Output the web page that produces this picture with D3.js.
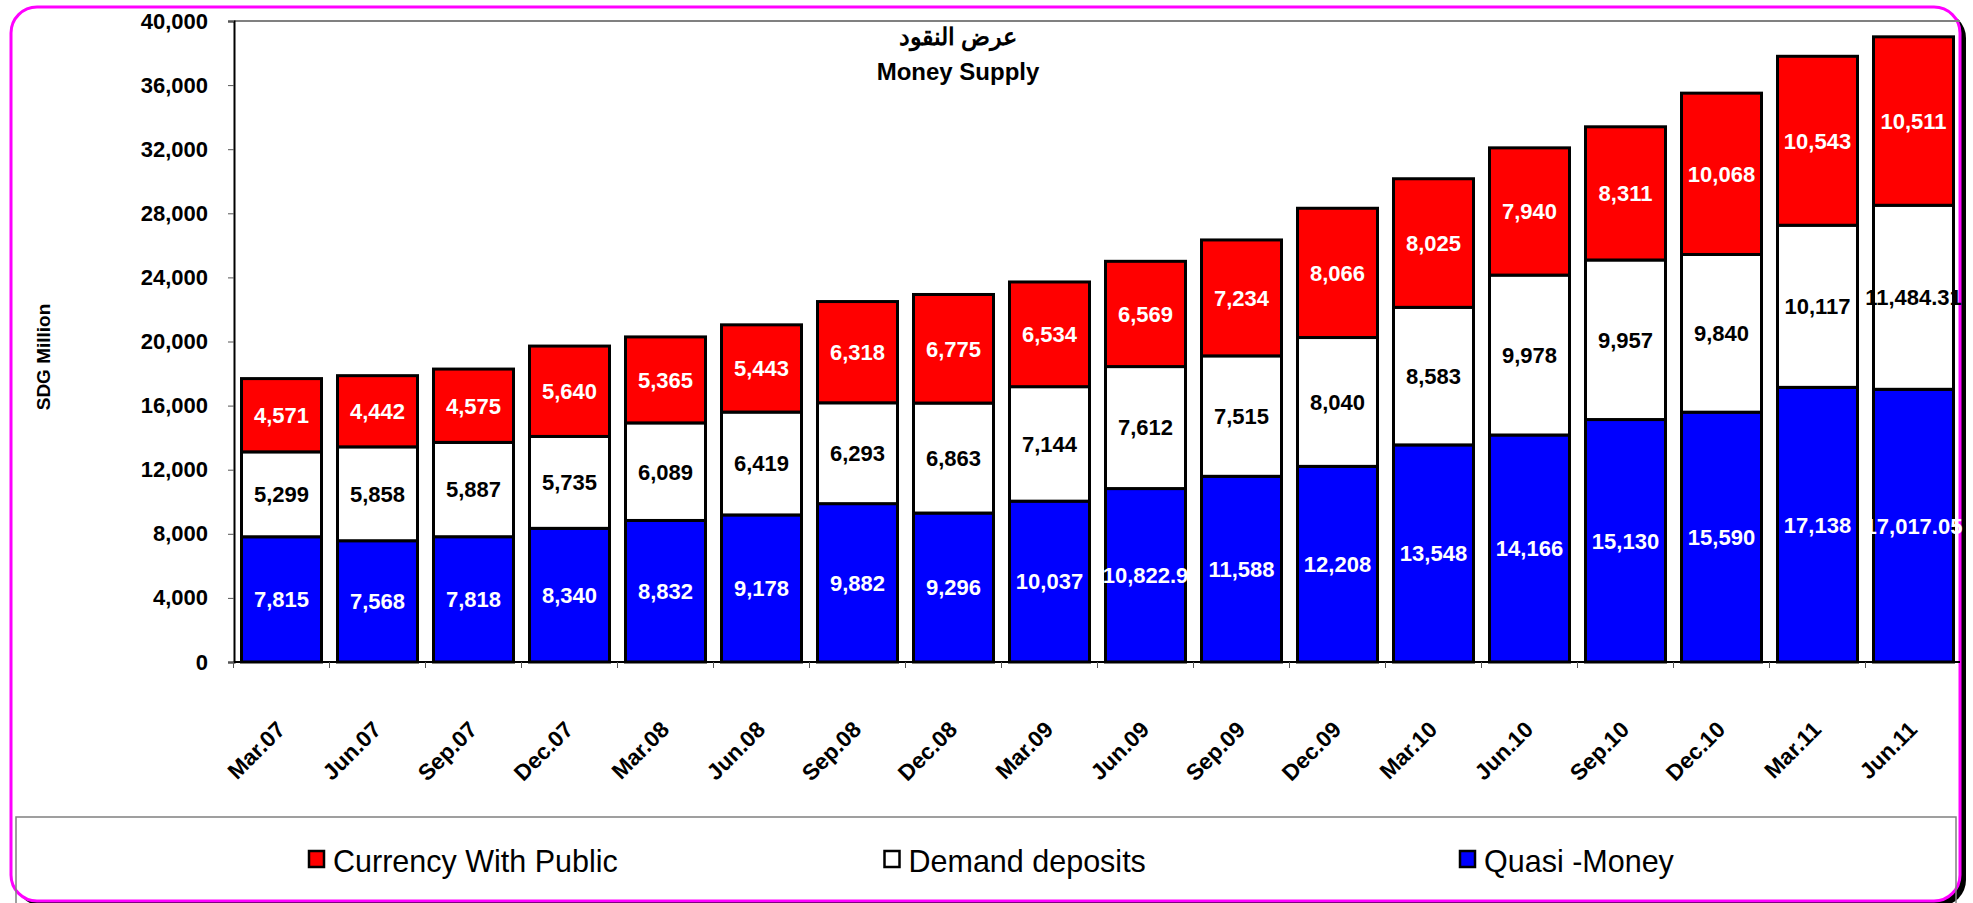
<!DOCTYPE html>
<html>
<head>
<meta charset="utf-8">
<script src="https://cdn.jsdelivr.net/npm/d3@7"></script>
<style>
  body { margin: 0; background: #fff; }
  text { font-family: "Liberation Sans", Arial, sans-serif; }
</style>
</head>
<body>
<div id="chart"></div>
<script>
// money supply, quarterly, SDG million
var periods = ["Mar.07", "Jun.07", "Sep.07", "Dec.07", "Mar.08", "Jun.08", "Sep.08", "Dec.08",
               "Mar.09", "Jun.09", "Sep.09", "Dec.09", "Mar.10", "Jun.10", "Sep.10", "Dec.10",
               "Mar.11", "Jun.11"];
var quasiMoney = [7815, 7568, 7818, 8340, 8832, 9178, 9882, 9296, 10037, 10822.9, 11588, 12208,
                  13548, 14166, 15130, 15590, 17138, 17017.05];
var demandDeposits = [5299, 5858, 5887, 5735, 6089, 6419, 6293, 6863, 7144, 7612, 7515, 8040,
                      8583, 9978, 9957, 9840, 10117, 11484.31];
var currency = [4571, 4442, 4575, 5640, 5365, 5443, 6318, 6775, 6534, 6569, 7234, 8066,
                8025, 7940, 8311, 10068, 10543, 10511];
var seriesNames = ["Quasi -Money", "Demand deposits", "Currency With Public"];
var yTicks = [0, 4000, 8000, 12000, 16000, 20000, 24000, 28000, 32000, 36000, 40000];

var W = 1973, H = 903;
var colors = {"Quasi -Money": "#0000ff", "Demand deposits": "#ffffff", "Currency With Public": "#ff0000"};
var labelColors = {"Quasi -Money": "#fff", "Demand deposits": "#000", "Currency With Public": "#fff"};

var rows = periods.map(function(p, i) {
  return {period: p, "Quasi -Money": quasiMoney[i], "Demand deposits": demandDeposits[i],
          "Currency With Public": currency[i]};
});

var svg = d3.select("#chart").append("svg")
  .attr("width", W).attr("height", H);

// outer frame with shadow
svg.append("rect")
  .attr("x", 16).attr("y", 12).attr("width", 1950).attr("height", 894)
  .attr("rx", 26).attr("fill", "#000");
svg.append("rect")
  .attr("x", 11).attr("y", 7).attr("width", 1949).attr("height", 894)
  .attr("rx", 26).attr("fill", "#fff")
  .attr("stroke", "#ff00ff").attr("stroke-width", 3);

var x = d3.scaleBand()
  .domain(periods)
  .range([233.5, 1961.5])
  .paddingInner(1 / 6)
  .paddingOuter(1 / 12);

var y = d3.scaleLinear()
  .domain([0, 40000])
  .range([662, 21]);

// plot top border
svg.append("line")
  .attr("x1", 234).attr("x2", 1960).attr("y1", 21).attr("y2", 21)
  .attr("stroke", "#808080").attr("stroke-width", 2);

var stack = d3.stack().keys(seriesNames);
var layers = stack(rows);

var g = svg.append("g");
layers.forEach(function(layer) {
  var key = layer.key;
  g.selectAll(null)
    .data(layer)
    .enter().append("rect")
    .attr("x", function(d) { return x(d.data.period); })
    .attr("y", function(d) { return y(d[1]); })
    .attr("width", x.bandwidth())
    .attr("height", function(d) { return y(d[0]) - y(d[1]); })
    .attr("fill", colors[key])
    .attr("stroke", "#000")
    .attr("stroke-width", 3);
});

// value labels
var fmt = d3.format(",");
layers.forEach(function(layer) {
  var key = layer.key;
  g.selectAll(null)
    .data(layer)
    .enter().append("text")
    .attr("x", function(d) { return x(d.data.period) + x.bandwidth() / 2; })
    .attr("y", function(d) { return (y(d[0]) + y(d[1])) / 2; })
    .attr("dy", "0.36em")
    .attr("text-anchor", "middle")
    .attr("font-size", 22)
    .attr("font-weight", "bold")
    .attr("fill", labelColors[key])
    .text(function(d) { return fmt(d.data[key]); });
});

// y axis
var yAxis = svg.append("g")
  .attr("transform", "translate(234,0)")
  .call(d3.axisLeft(y).tickValues(yTicks).tickSize(6).tickPadding(20).tickFormat(fmt));
yAxis.select(".domain").attr("stroke", "#000").attr("stroke-width", 2);
yAxis.selectAll(".tick line").attr("stroke", "#555");
yAxis.selectAll(".tick text")
  .attr("font-size", 22).attr("font-weight", "bold").attr("fill", "#000")
  .attr("font-family", "Liberation Sans, Arial, sans-serif");

// x axis line and category boundary ticks
svg.append("line")
  .attr("x1", 234).attr("x2", 1960).attr("y1", y(0)).attr("y2", y(0))
  .attr("stroke", "#000").attr("stroke-width", 2);
var half = x.step() * x.paddingInner() / 2;
svg.selectAll(".xtick")
  .data(periods)
  .enter().append("line")
  .attr("class", "xtick")
  .attr("x1", function(d) { return x(d) - half; })
  .attr("x2", function(d) { return x(d) - half; })
  .attr("y1", y(0)).attr("y2", y(0) + 6)
  .attr("stroke", "#555");

svg.selectAll(".xlabel")
  .data(periods)
  .enter().append("text")
  .attr("class", "xlabel")
  .attr("transform", function(d) {
    return "translate(" + (x(d) + x.bandwidth() / 2 + 5) + ",731) rotate(-45)";
  })
  .attr("text-anchor", "end")
  .attr("font-size", 22.5)
  .attr("font-weight", "bold")
  .text(function(d) { return d; });

// y axis title
svg.append("text")
  .attr("transform", "translate(50,357) rotate(-90)")
  .attr("text-anchor", "middle")
  .attr("font-size", 19)
  .attr("font-weight", "bold")
  .text("SDG Million");

// title
svg.append("text")
  .attr("x", 958).attr("y", 45)
  .attr("text-anchor", "middle")
  .attr("font-family", "DejaVu Sans, sans-serif")
  .attr("font-size", 24)
  .attr("font-weight", "bold")
  .text("عرض النقود");
svg.append("text")
  .attr("x", 958).attr("y", 80)
  .attr("text-anchor", "middle")
  .attr("font-family", "Open Sans, sans-serif")
  .attr("font-size", 24)
  .attr("font-weight", "bold")
  .text("Money Supply");

// legend
svg.append("rect")
  .attr("x", 16).attr("y", 817).attr("width", 1940).attr("height", 110)
  .attr("fill", "none").attr("stroke", "#808080").attr("stroke-width", 1.5);

var legendOrder = ["Currency With Public", "Demand deposits", "Quasi -Money"];
var legendX = d3.scalePoint().domain(legendOrder).range([309, 1460]);
var legend = svg.selectAll(".legend")
  .data(legendOrder)
  .enter().append("g")
  .attr("class", "legend")
  .attr("transform", function(d) { return "translate(" + legendX(d) + ",851)"; });
legend.append("rect")
  .attr("width", 15).attr("height", 16)
  .attr("fill", function(d) { return colors[d]; })
  .attr("stroke", "#000").attr("stroke-width", 2.5);
legend.append("text")
  .attr("x", 24).attr("y", 21)
  .attr("font-size", 30.5)
  .text(function(d) { return d; });
</script>
</body>
</html>
